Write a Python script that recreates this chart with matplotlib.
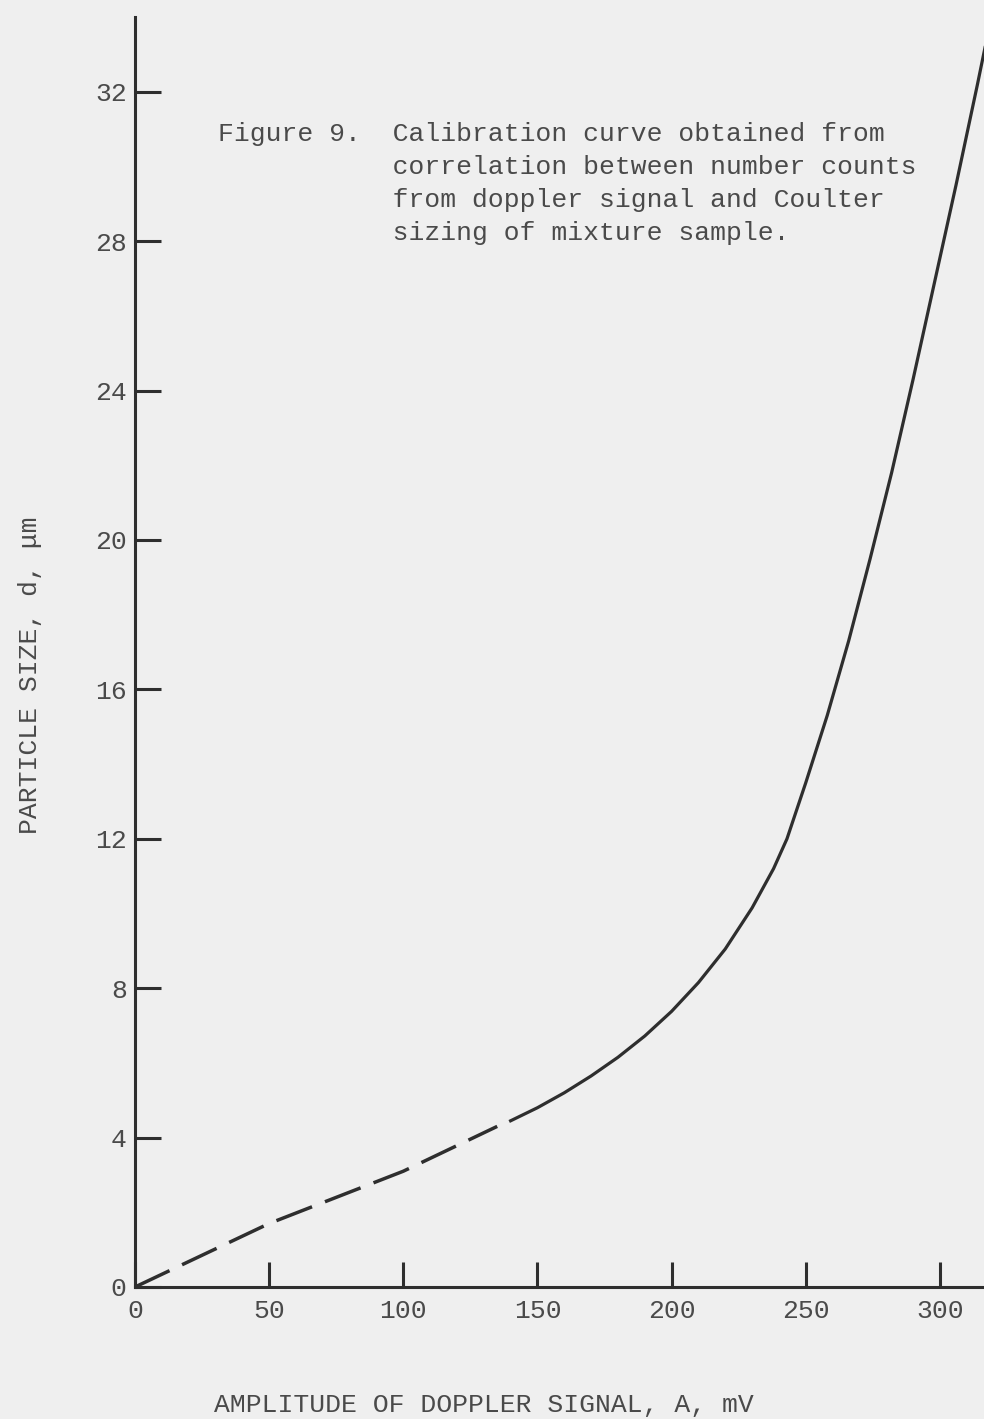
import matplotlib
matplotlib.use('Agg')
from matplotlib import pyplot as plt

# calibration curve, amplitude A [mV] vs particle size d [um]
ampDashed = [0, 50, 100, 135]
sizeDashed = [0.0, 1.7, 3.1, 4.3]

ampSolid = [140, 150, 160, 170, 180, 190, 200, 210, 220, 230, 238, 243,
            250, 258, 266, 274, 282, 290, 298, 306, 314, 318]
sizeSolid = [4.45, 4.80, 5.20, 5.65, 6.15, 6.72, 7.38, 8.15, 9.05, 10.15, 11.2, 12.0,
             13.5, 15.3, 17.3, 19.5, 21.8, 24.3, 26.9, 29.5, 32.2, 33.6]

xTicks = [0, 50, 100, 150, 200, 250, 300]
yTicks = [0, 4, 8, 12, 16, 20, 24, 28, 32]

caption = ('Figure 9.  Calibration curve obtained from\n'
           '           correlation between number counts\n'
           '           from doppler signal and Coulter\n'
           '           sizing of mixture sample.')

paper = '#efefef'
ink = '#2e2e2e'
textInk = '#4a4a4a'

plt.rcParams['font.family'] = ['Liberation Mono', 'DejaVu Sans Mono']
plt.rcParams['font.size'] = 19

fig = plt.figure(figsize=(9.84, 14.19), dpi=100)
fig.patch.set_facecolor(paper)

W, H = 984.0, 1419.0
x0, y0 = 135.0, 1287.0
pxPerMv = 2.683
pxPerUm = 37.35
xMax, yMax = 320, 34
axW = xMax * pxPerMv
axH = yMax * pxPerUm
ax = fig.add_axes([x0 / W, (H - y0) / H, axW / W, axH / H])
ax.set_facecolor(paper)

ax.plot(ampDashed, sizeDashed, color=ink, lw=2.5, linestyle=(0, (11, 4)), dash_capstyle='butt')
ax.plot(ampSolid, sizeSolid, color=ink, lw=2.3, solid_joinstyle='round')

ax.set_xlim(0, xMax)
ax.set_ylim(0, yMax)
ax.set_xticks(xTicks)
ax.set_yticks(yTicks)

for s in ['top', 'right']:
    ax.spines[s].set_visible(False)
for s in ['left', 'bottom']:
    ax.spines[s].set_linewidth(2.2)
    ax.spines[s].set_color(ink)

ax.tick_params(axis='both', direction='in', width=2.2, color=ink, labelcolor=textInk)
ax.tick_params(axis='x', length=18, pad=9)
ax.tick_params(axis='y', length=18.5, pad=6)

ax.set_xlabel('AMPLITUDE OF DOPPLER SIGNAL, A, mV', color=textInk)
ax.xaxis.set_label_coords((484 - x0) / axW, -(1393 - y0) / axH)
ax.set_ylabel('PARTICLE SIZE, d, \u03bcm', color=textInk)
ax.yaxis.set_label_coords(-(x0 - 42) / axW, (y0 - 675) / axH)

fig.text(218 / W, 1 - 122 / H, caption, ha='left', va='top', color=textInk,
         linespacing=1.47)

plt.savefig('out.png', dpi=100, facecolor=paper)
